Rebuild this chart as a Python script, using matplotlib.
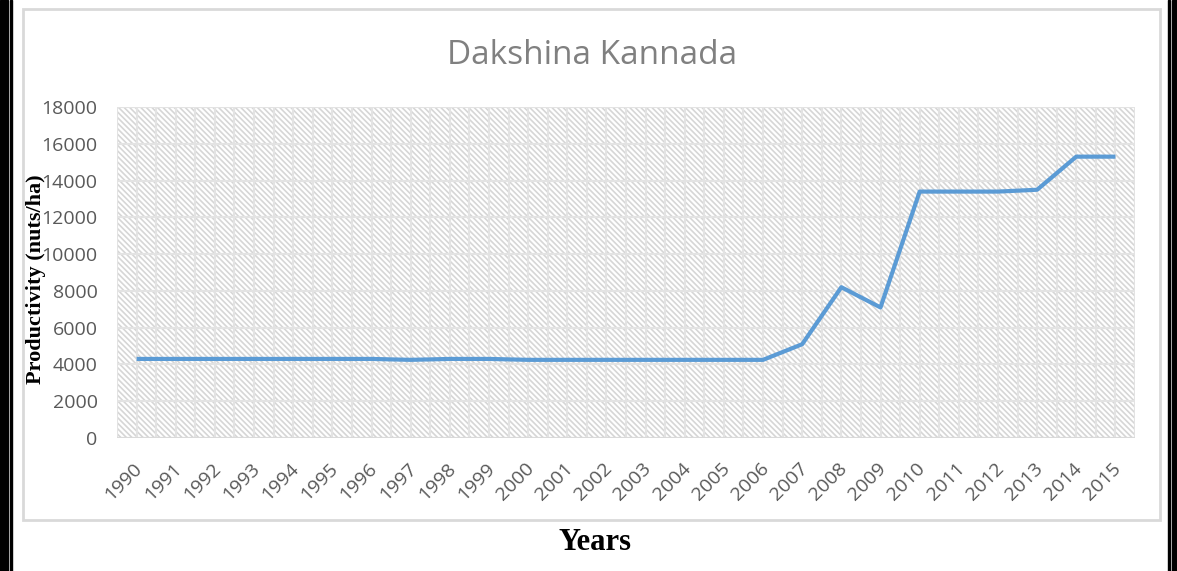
import numpy as np
import matplotlib.pyplot as plt
from matplotlib.patches import Rectangle
from matplotlib.transforms import ScaledTranslation

years = [str(y) for y in range(1990, 2016)]
productivity = [4300, 4300, 4300, 4300, 4300, 4300, 4300, 4250, 4300, 4300,
                4250, 4250, 4250, 4250, 4250, 4250, 4250, 5100, 8200, 7100,
                13400, 13400, 13400, 13500, 15300, 15300]
y_ticks = list(range(0, 18001, 2000))

plt.rcParams['hatch.color'] = '#d6d6d6'
plt.rcParams['hatch.linewidth'] = 1.2

fig = plt.figure(figsize=(11.77, 5.71), dpi=100)
W, H = 1177, 571

# outer page borders (black double lines) and chart frame
fig.patches.append(Rectangle((0, 0), 8 / W, 1, transform=fig.transFigure, color='black', zorder=0))
fig.patches.append(Rectangle((10 / W, 0), 2 / W, 1, transform=fig.transFigure, color='black', zorder=0))
fig.patches.append(Rectangle((1168 / W, 0), 2 / W, 1, transform=fig.transFigure, color='black', zorder=0))
fig.patches.append(Rectangle((1172 / W, 0), 5 / W, 1, transform=fig.transFigure, color='black', zorder=0))
fig.patches.append(Rectangle((23 / W, 1 - 520 / H), (1160 - 23) / W, (520 - 9) / H,
                             transform=fig.transFigure, fill=False, edgecolor='#d9d9d9', lw=2, zorder=0))

ax = fig.add_axes([117 / W, 1 - 438 / H, (1135 - 117) / W, (438 - 107) / H])
x = np.arange(len(years))
ax.set_xlim(-0.5, len(years) - 0.5)
ax.set_ylim(0, 18000)

ax.add_patch(Rectangle((0, 0), 1, 1, transform=ax.transAxes, facecolor='white',
                       hatch='\\\\\\\\\\\\', edgecolor='#d6d6d6', lw=0, zorder=0))

for v in np.arange(-0.5, len(years), 0.5):
    ax.axvline(v, color='#e3e3e3', lw=1.5, zorder=1)
for t in y_ticks:
    ax.axhline(t, color='#e3e3e3', lw=1.5, zorder=1)

ax.plot(x, productivity, color='#5b9bd5', lw=3, zorder=3, solid_capstyle='butt')

for s in ax.spines.values():
    s.set_visible(False)
ax.axhline(0, color='#d9d9d9', lw=1.5, zorder=2)

ax.set_yticks(y_ticks)
ax.set_yticklabels([str(t) for t in y_ticks], fontsize=14, color='#595959', family='Open Sans')
ax.set_xticks(x)
ax.set_xticklabels(years, fontsize=14, color='#595959', family='Open Sans', rotation=45,
                   ha='right', va='center', rotation_mode='anchor')
ax.tick_params(axis='y', length=0, pad=14)
ax.tick_params(axis='x', length=0, pad=20)
shift = ScaledTranslation(3 / 100, 0, fig.dpi_scale_trans)
for lab in ax.get_xticklabels():
    lab.set_transform(lab.get_transform() + shift)

fig.text(592 / W, 1 - 55 / H, 'Dakshina Kannada', ha='center', va='center',
         fontsize=24, color='#808080', family='Open Sans')
fig.text(36 / W, 1 - 279 / H, 'Productivity (nuts/ha)', rotation=90, ha='center', va='center',
         fontsize=16, fontweight='bold', family='Liberation Serif')
fig.text(595 / W, 1 - 542 / H, 'Years', ha='center', va='center',
         fontsize=22, fontweight='bold', family='Liberation Serif')

fig.savefig('out.png', dpi=100)
